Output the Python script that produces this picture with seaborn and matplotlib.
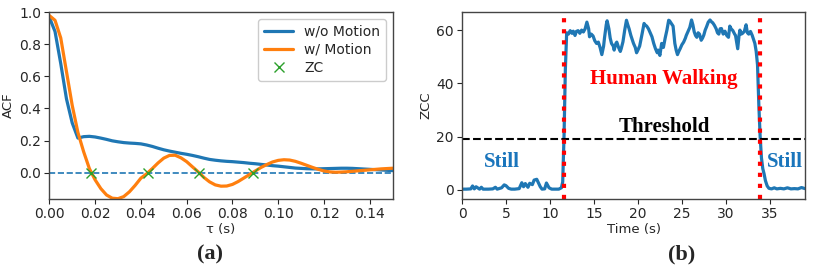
import numpy as np
import matplotlib
matplotlib.use("Agg")
import matplotlib.pyplot as plt
import seaborn as sns

# (a) autocorrelation
tau = [0.0, 0.0025, 0.005, 0.0075, 0.01, 0.0125, 0.015, 0.0175, 0.02, 0.0225,
       0.025, 0.0275, 0.03, 0.0325, 0.035, 0.0375, 0.04, 0.0425, 0.045, 0.0475,
       0.05, 0.0525, 0.055, 0.0575, 0.06, 0.0625, 0.065, 0.0675, 0.07, 0.0725,
       0.075, 0.0775, 0.08, 0.0825, 0.085, 0.0875, 0.09, 0.0925, 0.095, 0.0975,
       0.1, 0.1025, 0.105, 0.1075, 0.11, 0.1125, 0.115, 0.1175, 0.12, 0.1225,
       0.125, 0.1275, 0.13, 0.1325, 0.135, 0.1375, 0.14, 0.1425, 0.145, 0.1475, 0.15]
acf_still = [0.97, 0.88, 0.68, 0.46, 0.31, 0.215, 0.224, 0.226, 0.222, 0.215,
             0.207, 0.198, 0.192, 0.187, 0.184, 0.182, 0.179, 0.172, 0.163, 0.152,
             0.142, 0.134, 0.127, 0.12, 0.114, 0.107, 0.099, 0.09, 0.082, 0.077,
             0.073, 0.07, 0.068, 0.065, 0.062, 0.058, 0.055, 0.051, 0.047, 0.043,
             0.04, 0.036, 0.032, 0.028, 0.026, 0.024, 0.023, 0.023, 0.024, 0.025,
             0.026, 0.027, 0.027, 0.026, 0.024, 0.022, 0.02, 0.018, 0.016, 0.014, 0.012]
acf_motion = [0.98, 0.95, 0.84, 0.63, 0.42, 0.25, 0.13, 0.025, -0.045, -0.10,
              -0.14, -0.16, -0.163, -0.15, -0.12, -0.08, -0.035, -0.008, 0.025, 0.06,
              0.09, 0.107, 0.108, 0.092, 0.068, 0.036, 0.005, -0.03, -0.058, -0.077,
              -0.085, -0.084, -0.074, -0.056, -0.034, -0.012, 0.01, 0.032, 0.05, 0.066,
              0.076, 0.08, 0.078, 0.07, 0.058, 0.045, 0.032, 0.02, 0.01, 0.004,
              0.002, 0.003, 0.005, 0.008, 0.011, 0.014, 0.017, 0.02, 0.023, 0.025, 0.027]
zc_tau = [0.0183, 0.0433, 0.0654, 0.0889]
zc_val = [0.0, 0.0, 0.0, 0.0]

# (b) zero crossing count over time
time_s = [0, 0.5, 1.0, 1.2, 1.4, 1.6, 2.0, 2.2, 2.4, 3.0, 3.5, 3.8, 4.0, 4.5, 4.8,
          5.0, 5.3, 5.6, 6.0, 6.5, 6.8, 7.0, 7.2, 7.5, 7.7, 8.0, 8.2, 8.5, 8.7, 8.9,
          9.1, 9.4, 9.6, 9.9, 10.2, 10.6, 11.0, 11.3, 11.45, 11.6, 11.75, 11.9,
          12.1, 12.3, 12.5, 12.65, 12.85, 13.0, 13.2, 13.4, 13.6, 13.8, 14.0, 14.2,
          14.4, 14.5, 14.7, 14.9, 15.1, 15.3, 15.5, 15.7, 15.9, 16.1, 16.2, 16.4,
          16.5, 16.7, 16.85, 17.0, 17.2, 17.3, 17.5, 17.6, 17.8, 18.0, 18.1, 18.3,
          18.5, 18.7, 18.85, 19.0, 19.2, 19.3, 19.5, 19.7, 19.85, 20.0, 20.2, 20.3,
          20.5, 20.7, 20.8, 21.0, 21.2, 21.4, 21.6, 21.8, 22.0, 22.2, 22.3, 22.5,
          22.7, 22.9, 23.1, 23.3, 23.5, 23.6, 23.8, 24.0, 24.2, 24.35, 24.5, 24.65,
          24.8, 25.0, 25.2, 25.4, 25.5, 25.7, 25.9, 26.1, 26.25, 26.4, 26.55, 26.7,
          26.85, 27.0, 27.2, 27.35, 27.5, 27.65, 27.8, 28.0, 28.2, 28.4, 28.5, 28.7,
          28.9, 29.05, 29.2, 29.35, 29.5, 29.7, 29.9, 30.1, 30.3, 30.45, 30.6, 30.8,
          31.0, 31.1, 31.25, 31.35, 31.5, 31.6, 31.75, 31.9, 32.1, 32.3, 32.45, 32.6,
          32.8, 33.0, 33.15, 33.3, 33.45, 33.6, 33.75, 33.9, 34.05, 34.2, 34.35, 34.5,
          34.7, 34.9, 35.2, 35.5, 35.8, 36.2, 36.6, 37.0, 37.4, 37.8, 38.2, 38.6, 39.0]
zcc = [0.3, 0.3, 0.4, 1.5, 0.4, 1.2, 0.3, 1.0, 0.3, 0.3, 0.4, 1.0, 0.3, 0.8, 1.9,
       1.6, 0.6, 0.3, 0.3, 0.5, 2.7, 1.2, 2.4, 1.0, 2.5, 2.0, 3.7, 4.0, 2.6, 1.2,
       0.3, 0.4, 2.6, 0.8, 0.3, 0.3, 0.3, 0.8, 3.0, 20, 45, 59,
       58.5, 59.8, 58.8, 59.6, 58, 59.5, 59.8, 58.8, 60, 59.3, 60.5, 63,
       60.5, 57.5, 58.5, 57.8, 56, 55, 55.5, 53.5, 50.8, 54, 57, 62,
       63.5, 60.5, 57, 55, 54, 52.5, 55, 55.5, 53.5, 52, 53, 55.6,
       60, 63.7, 62, 60.5, 58, 57, 55, 53.5, 51.5, 52.5, 54, 55.6,
       59, 62.5, 62, 61.5, 60.5, 59, 57.5, 55, 53, 51.5, 52.5, 50.5,
       55, 53.5, 57, 60, 63.7, 63.5, 62.5, 61.5, 55, 52.5, 50.8, 52,
       53, 54.5, 55.5, 57, 58, 59.5, 61, 63.8, 62, 59.4, 58, 57.3,
       59, 58.5, 56.2, 57, 58.2, 60, 61.2, 63, 63.8, 63, 62.8, 61.8,
       60.5, 59, 58.5, 60.5, 60.6, 58.5, 59.6, 58, 57.3, 61.5, 60.5, 59.8,
       58.5, 58, 55, 53, 58, 60, 58.5, 58.8, 59.5, 62, 59, 58.5,
       59.5, 58, 56.5, 55, 52, 47, 32, 20, 12, 8, 6, 3.5,
       1.5, 0.6, 0.4, 0.8, 0.4, 0.6, 0.4, 0.8, 0.4, 0.5, 0.4, 0.9, 0.5]
threshold = 19
walk_start, walk_end = 11.6, 33.9

sns.set_theme(style="ticks")
plt.rcParams["font.family"] = ["DejaVu Sans"]
plt.rcParams["axes.edgecolor"] = "#444444"
plt.rcParams["xtick.labelsize"] = 10
plt.rcParams["ytick.labelsize"] = 10
plt.rcParams["axes.labelsize"] = 9.5
plt.rcParams["xtick.major.size"] = 3.5
plt.rcParams["ytick.major.size"] = 3.5
plt.rcParams["xtick.major.width"] = 0.8
plt.rcParams["ytick.major.width"] = 0.8
plt.rcParams["xtick.major.pad"] = 2.5
plt.rcParams["ytick.major.pad"] = 2.5

blue = "#1f77b4"
orange = "#ff7f0e"
green = "#2ca02c"
serif = ["Liberation Serif", "DejaVu Serif"]

fig = plt.figure(figsize=(8.3, 2.78), dpi=100)
ax1 = fig.add_axes([49.3 / 830, 79 / 278, 343.4 / 830, 186.7 / 278])
ax2 = fig.add_axes([462 / 830, 79 / 278, 343 / 830, 187 / 278])

# --- (a) ---
ax1.axhline(0, color=blue, linestyle="--", linewidth=1.2)
sns.lineplot(x=tau, y=acf_still, ax=ax1, color=blue, linewidth=2.3,
             estimator=None, sort=False, label="w/o Motion")
sns.lineplot(x=tau, y=acf_motion, ax=ax1, color=orange, linewidth=2.3,
             estimator=None, sort=False, label="w/ Motion")
ax1.plot(zc_tau, zc_val, "x", color=green, markersize=7, markeredgewidth=1.0,
         linestyle="none", label="ZC")
ax1.set_xlim(0, 0.15)
ax1.set_ylim(-0.165, 1.0)
ax1.set_xticks([0, 0.02, 0.04, 0.06, 0.08, 0.10, 0.12, 0.14])
ax1.set_xticklabels([f"{v:.2f}" for v in [0, 0.02, 0.04, 0.06, 0.08, 0.10, 0.12, 0.14]])
ax1.set_yticks([0.0, 0.2, 0.4, 0.6, 0.8, 1.0])
ax1.set_yticklabels([f"{v:.1f}" for v in [0.0, 0.2, 0.4, 0.6, 0.8, 1.0]])
ax1.set_xlabel("τ (s)", labelpad=1)
ax1.set_ylabel("ACF", labelpad=3)
ax1.legend(loc="upper right", fontsize=10, handlelength=2.1, borderpad=0.4,
           labelspacing=0.3, framealpha=1)

# --- (b) ---
sns.lineplot(x=time_s, y=zcc, ax=ax2, color=blue, linewidth=2.3,
             estimator=None, sort=False)
ax2.axhline(threshold, color="black", linestyle="--", linewidth=1.5)
ax2.axvline(walk_start, color="red", linestyle=":", linewidth=3)
ax2.axvline(walk_end, color="red", linestyle=":", linewidth=3)
ax2.set_xlim(0, 39)
ax2.set_ylim(-3.4, 66.8)
ax2.set_xticks([0, 5, 10, 15, 20, 25, 30, 35])
ax2.set_yticks([0, 20, 40, 60])
ax2.set_xlabel("Time (s)", labelpad=1)
ax2.set_ylabel("ZCC", labelpad=3)
ax2.text(23.0, 41.5, "Human Walking", color="red", family=serif,
         fontweight="bold", fontsize=15, ha="center", va="center")
ax2.text(23.0, 23.5, "Threshold", color="black", family=serif,
         fontweight="bold", fontsize=15, ha="center", va="center")
ax2.text(4.5, 10.5, "Still", color="#1a75bc", family=serif,
         fontweight="bold", fontsize=15, ha="center", va="center")
ax2.text(36.7, 10.5, "Still", color="#1a75bc", family=serif,
         fontweight="bold", fontsize=15, ha="center", va="center")

for ax in (ax1, ax2):
    for s in ax.spines.values():
        s.set_visible(True)
        s.set_linewidth(1.0)

fig.text(210 / 830, 1 - 254 / 278, "(a)", family=serif, fontweight="bold",
         fontsize=16, ha="center", va="center")
fig.text(682 / 830, 1 - 254 / 278, "(b)", family=serif, fontweight="bold",
         fontsize=16, ha="center", va="center")

fig.savefig("out.png", dpi=100)
